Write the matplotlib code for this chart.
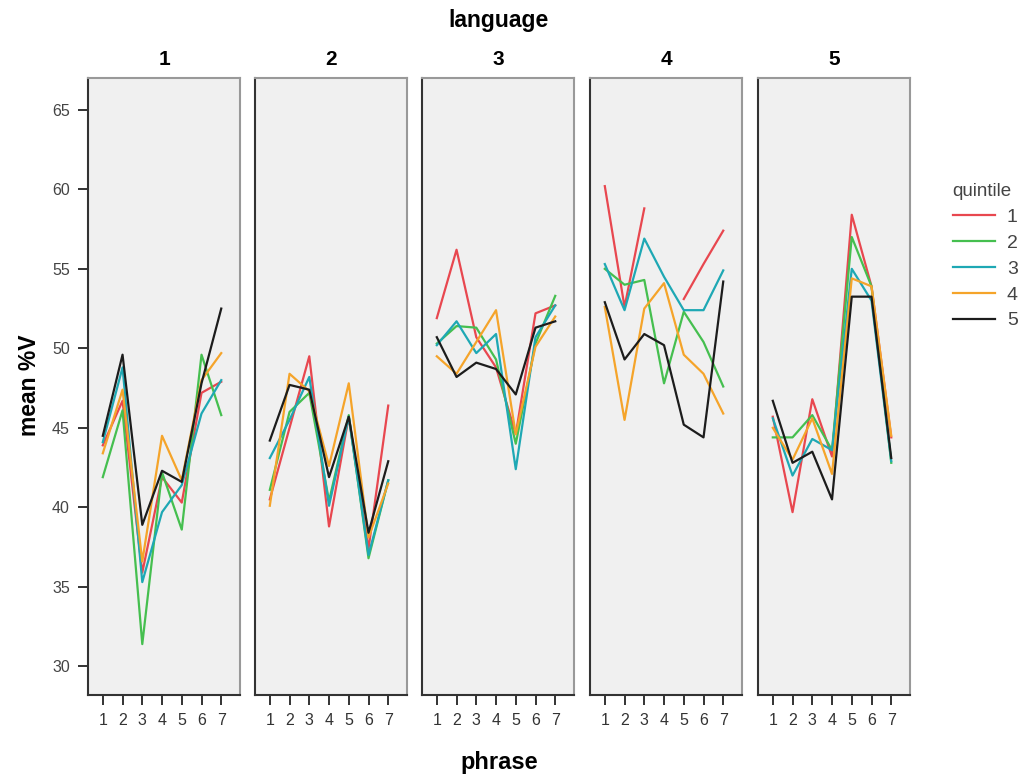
import numpy as np
import matplotlib
matplotlib.use("Agg")
import matplotlib.pyplot as plt

plt.rcParams['font.family'] = ['Liberation Sans', 'DejaVu Sans']

# données
phrases = [1, 2, 3, 4, 5, 6, 7]
languages = ["1", "2", "3", "4", "5"]
quintiles = ["1", "2", "3", "4", "5"]
colors = ["#e8474f", "#45bf4f", "#1ea8b4", "#f5a42a", "#1c1c1c"]

# langue 1
lang1_q1 = [43.9, 46.7, 35.9, 41.9, 40.3, 47.2, 47.9]
lang1_q2 = [41.9, 46.1, 31.4, 42.2, 38.6, 49.6, 45.8]
lang1_q3 = [44.1, 48.8, 35.3, 39.7, 41.4, 45.9, 48.0]
lang1_q4 = [43.4, 47.4, 36.6, 44.5, 41.7, 48.0, 49.7]
lang1_q5 = [44.5, 49.6, 38.9, 42.3, 41.6, 47.8, 52.5]
# langue 2
lang2_q1 = [40.5, 45.0, 49.5, 38.8, 45.7, 37.4, 46.4]
lang2_q2 = [41.1, 46.0, 47.2, 40.4, 45.8, 36.8, 41.7]
lang2_q3 = [43.1, 45.5, 48.2, 40.1, 45.7, 37.0, 41.7]
lang2_q4 = [40.1, 48.4, 47.3, 42.6, 47.8, 38.1, 41.5]
lang2_q5 = [44.2, 47.7, 47.4, 41.9, 45.7, 38.4, 42.9]
# langue 3
lang3_q1 = [51.9, 56.2, 50.7, 48.8, 44.6, 52.2, 52.7]
lang3_q2 = [50.3, 51.4, 51.3, 49.3, 44.0, 50.3, 53.3]
lang3_q3 = [50.2, 51.7, 49.7, 50.9, 42.4, 50.7, 52.7]
lang3_q4 = [49.5, 48.4, 50.4, 52.4, 44.6, 50.1, 52.0]
lang3_q5 = [50.7, 48.2, 49.1, 48.7, 47.1, 51.3, 51.7]
# langue 4
lang4_q1 = [60.2, 52.6, 58.8, np.nan, 53.1, 55.3, 57.4]
lang4_q2 = [55.0, 54.0, 54.3, 47.8, 52.3, 50.4, 47.6]
lang4_q3 = [55.3, 52.4, 56.9, 54.5, 52.4, 52.4, 54.9]
lang4_q4 = [52.6, 45.5, 52.5, 54.1, 49.6, 48.4, 45.9]
lang4_q5 = [52.9, 49.3, 50.9, 50.2, 45.2, 44.4, 54.2]
# langue 5
lang5_q1 = [45.7, 39.7, 46.8, 43.2, 58.4, 53.9, 44.4]
lang5_q2 = [44.4, 44.4, 45.8, 43.6, 57.0, 53.9, 42.8]
lang5_q3 = [45.6, 42.0, 44.3, 43.6, 55.0, 53.0, 42.9]
lang5_q4 = [45.0, 43.0, 45.6, 42.1, 54.4, 53.9, 44.5]
lang5_q5 = [46.7, 42.8, 43.5, 40.5, 53.25, 53.25, 43.1]

data = [
    [lang1_q1, lang1_q2, lang1_q3, lang1_q4, lang1_q5],
    [lang2_q1, lang2_q2, lang2_q3, lang2_q4, lang2_q5],
    [lang3_q1, lang3_q2, lang3_q3, lang3_q4, lang3_q5],
    [lang4_q1, lang4_q2, lang4_q3, lang4_q4, lang4_q5],
    [lang5_q1, lang5_q2, lang5_q3, lang5_q4, lang5_q5],
]

W, H = 1028, 774
fig = plt.figure(figsize=(W / 100, H / 100), dpi=100)

lefts = [88, 255, 422, 590, 758]
pw = 152
top, bottom = 78, 695

axes = []
for k, lang in enumerate(languages):
    ax = fig.add_axes([lefts[k] / W, 1 - bottom / H, pw / W, (bottom - top) / H])
    ax.set_facecolor("#f0f0f0")
    for q in range(5):
        ax.plot(phrases, data[k][q], color=colors[q], lw=1.6, label=quintiles[q])
    ax.set_xlim(0.25, 7.95)
    ax.set_ylim(28.2, 67.0)
    ax.set_xticks(phrases)
    ax.set_xticklabels([str(p) for p in phrases], fontsize=11.5, color="#333333")
    ax.tick_params(axis="x", length=7, width=1.4, color="#333333", pad=6)
    if k == 0:
        ax.set_yticks([30, 35, 40, 45, 50, 55, 60, 65])
        ax.set_yticklabels(["30", "35", "40", "45", "50", "55", "60", "65"],
                           fontsize=11.5, color="#444444")
        ax.tick_params(axis="y", length=7, width=1.4, color="#333333", pad=6)
    else:
        ax.set_yticks([])
    for s in ax.spines.values():
        s.set_color("#333333")
        s.set_linewidth(1.5)
    ax.spines["right"].set_color("#999999")
    ax.spines["top"].set_color("#999999")
    ax.text(0.5, 1.015, lang, transform=ax.transAxes, ha="center", va="bottom",
            fontsize=15, fontweight="bold")
    axes.append(ax)

fig.text(499 / W, 1 - 21 / H, "language", ha="center", va="center",
         fontsize=16.5, fontweight="bold")
fig.text(499 / W, 1 - 762 / H, "phrase", ha="center", va="center",
         fontsize=17, fontweight="bold")
fig.text(30 / W, 1 - 385 / H, "mean %V", ha="center", va="center",
         rotation=90, fontsize=16.5, fontweight="bold")

handles, labels = axes[0].get_legend_handles_labels()
leg = fig.legend(handles, labels, title="quintile", loc="upper left",
                 bbox_to_anchor=(935 / W, 1 - 166 / H), frameon=False,
                 fontsize=14, title_fontsize=13.5, handlelength=2.2,
                 labelspacing=0.42, handletextpad=0.6)
leg._legend_box.align = "left"
for t in leg.get_texts():
    t.set_color("#444444")
leg.get_title().set_color("#444444")

plt.savefig("out.png", dpi=100)
